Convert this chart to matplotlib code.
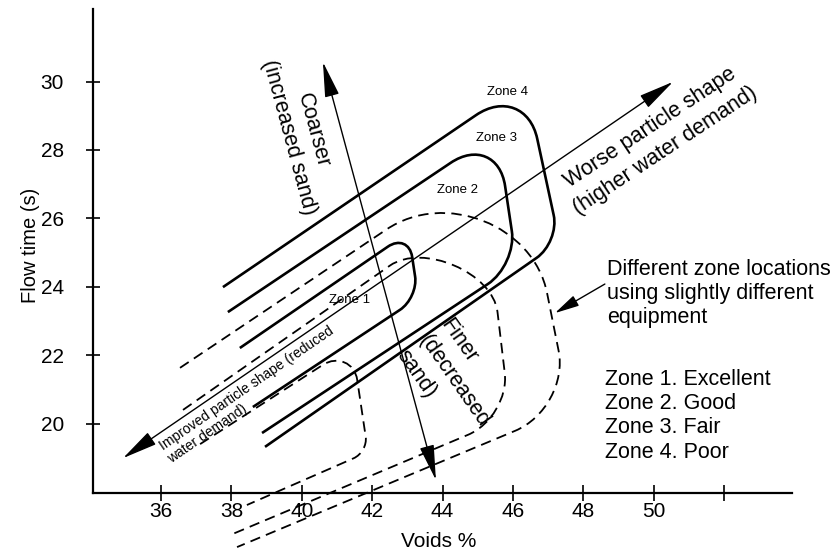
import numpy as np
import matplotlib
matplotlib.use('Agg')
import matplotlib.pyplot as plt
from matplotlib.path import Path
from matplotlib.patches import PathPatch

plt.rcParams['font.family'] = ['Liberation Sans', 'DejaVu Sans']
plt.rcParams['lines.scale_dashes'] = False

# zone boundaries (voids %, flow time s): open top end, two corners, open bottom end
zone1_voids = [38.24, 43.03, 43.31, 38.61]
zone1_flow = [22.21, 25.585, 23.68, 20.485]
zone2_voids = [37.90, 45.545, 46.11, 38.87]
zone2_flow = [23.26, 28.53, 24.64, 19.725]
zone3_voids = [37.76, 46.34, 47.32, 38.955]
zone3_flow = [23.99, 29.99, 25.31, 19.32]

# same zones measured with other equipment (dashed)
alt1_voids = [37.11, 41.43, 41.88, 38.44]
alt1_flow = [19.40, 22.27, 19.17, 17.62]
alt2_voids = [36.625, 45.18, 45.915, 37.96]
alt2_flow = [20.40, 26.54, 20.19, 16.74]
alt3_voids = [36.54, 46.11, 47.62, 38.16]
alt3_flow = [21.63, 28.23, 20.46, 16.39]

# direction arrows (start, end)
shape_arrow_voids = [34.92, 50.545]
shape_arrow_flow = [18.99, 29.99]
grading_arrow_voids = [40.60, 43.81]
grading_arrow_flow = [30.57, 18.35]

x_ticks = [36, 38, 40, 42, 44, 46, 48, 50, 52]
x_ticklabels = ['36', '38', '40', '42', '44', '46', '48', '50', '']
y_ticks = [20, 22, 24, 26, 28, 30]

zone_names = ['Zone 1', 'Zone 2', 'Zone 3', 'Zone 4']
zone_label_voids = [41.37, 44.41, 45.545, 45.83]
zone_label_flow = [23.61, 26.83, 28.35, 29.70]
zone_ratings = ['Excellent', 'Good', 'Fair', 'Poor']


def zone_path(vx, vy, radii, ks):
    pts = np.column_stack([vx, vy])
    verts = [pts[0]]
    codes = [Path.MOVETO]
    for i in (1, 2):
        a = pts[i] - pts[i - 1]
        b = pts[i + 1] - pts[i]
        ua = a / np.hypot(*a)
        ub = b / np.hypot(*b)
        p_in = pts[i] - radii[i - 1] * ua
        p_out = pts[i] + radii[i - 1] * ub
        k = ks[i - 1]
        verts += [p_in, p_in + k * (pts[i] - p_in), p_out + k * (pts[i] - p_out), p_out]
        codes += [Path.LINETO, Path.CURVE4, Path.CURVE4, Path.CURVE4]
    verts.append(pts[3])
    codes.append(Path.LINETO)
    return Path(verts, codes)


def text_block(x, y, lines, pitch, rot=0, ha='left', size=15.5):
    # x, y = baseline of the first line; pitch = line distance in pixels
    t = np.radians(rot)
    down = np.array([np.sin(t), -np.cos(t)])
    for i, line in enumerate(lines):
        off = down * i * pitch * 0.72
        ax.annotate(line, xy=(x, y), xytext=off, textcoords='offset points',
                    fontsize=size, rotation=rot, rotation_mode='anchor',
                    ha=ha, va='baseline')


fig = plt.figure(figsize=(8.37, 5.52), dpi=100)
ax = fig.add_axes([93 / 837, (552 - 492.7) / 552, (792 - 93) / 837, (492.7 - 9) / 552])
ax.set_xlim(34.068, 53.926)
ax.set_ylim(17.98, 32.12)

# solid zones
solid = [(zone1_voids, zone1_flow, [0.72, 0.63]),
         (zone2_voids, zone2_flow, [1.6, 1.0]),
         (zone3_voids, zone3_flow, [1.7, 0.8])]
for vx, vy, r in solid:
    ax.add_patch(PathPatch(zone_path(vx, vy, r, [0.55, 0.55]), fill=False,
                           lw=1.9, ec='black', capstyle='butt'))

# dashed zones
dashed = [(alt1_voids, alt1_flow, [1.0, 0.45], [0.5, 0.55]),
          (alt2_voids, alt2_flow, [3.3, 1.3], [0.35, 0.55]),
          (alt3_voids, alt3_flow, [4.5, 1.7], [0.45, 0.55])]
for vx, vy, r, ks in dashed:
    ax.add_patch(PathPatch(zone_path(vx, vy, r, ks), fill=False, lw=1.3,
                           ec='black', linestyle=(0, (7.5, 4.5)), clip_on=False))

# arrows
head2 = dict(arrowstyle='<|-|>,head_length=2.2,head_width=0.45', lw=1.0,
             color='black', shrinkA=0, shrinkB=0, mutation_scale=10)
ax.annotate('', xy=(shape_arrow_voids[1], shape_arrow_flow[1]),
            xytext=(shape_arrow_voids[0], shape_arrow_flow[0]), arrowprops=head2)
ax.annotate('', xy=(grading_arrow_voids[1], grading_arrow_flow[1]),
            xytext=(grading_arrow_voids[0], grading_arrow_flow[0]), arrowprops=head2)
ax.annotate('', xy=(47.19, 23.23), xytext=(48.61, 24.08),
            arrowprops=dict(arrowstyle='-|>,head_length=1.5,head_width=0.35', lw=1.0,
                            color='black', shrinkA=0, shrinkB=0, mutation_scale=10))

# zone labels
for name, zx, zy in zip(zone_names, zone_label_voids, zone_label_flow):
    ax.text(zx, zy, name, fontsize=9.5, ha='center', va='center')

text_block(40.165, 28.526, ['Coarser', '(increased sand)'], 25, rot=-74.9, ha='center')
text_block(49.98, 28.515, ['Worse particle shape', '(higher water demand)'], 27,
           rot=33.5, ha='center')
text_block(43.946, 22.90, ['Finer', '(decreased', 'sand)'], 27, rot=-55)
text_block(36.057, 19.199, ['Improved particle shape (reduced', 'water demand)'], 14.7,
           rot=34.5, size=10)
text_block(48.67, 24.354, ['Different zone locations', 'using slightly different',
                           'equipment'], 24)
text_block(48.616, 21.137, [f'{n}. {r}' for n, r in zip(zone_names, zone_ratings)], 24.3)

# axes styling
for side in ('top', 'right'):
    ax.spines[side].set_visible(False)
for side in ('left', 'bottom'):
    ax.spines[side].set_linewidth(1.6)
ax.set_xticks(x_ticks)
ax.set_xticklabels(x_ticklabels)
ax.set_yticks(y_ticks)
ax.tick_params(axis='x', direction='inout', length=11, width=1.2, pad=1, labelsize=15)
ax.tick_params(axis='y', direction='inout', length=10, width=1.2, pad=16, labelsize=15)
ax.set_xlabel('Voids %', fontsize=15, va='center')
ax.xaxis.set_label_coords(0.495, -0.101)
ax.set_ylabel('Flow time (s)', fontsize=14.5, va='center')
ax.yaxis.set_label_coords(-0.09, 0.512)

fig.savefig('out.png', dpi=100)
